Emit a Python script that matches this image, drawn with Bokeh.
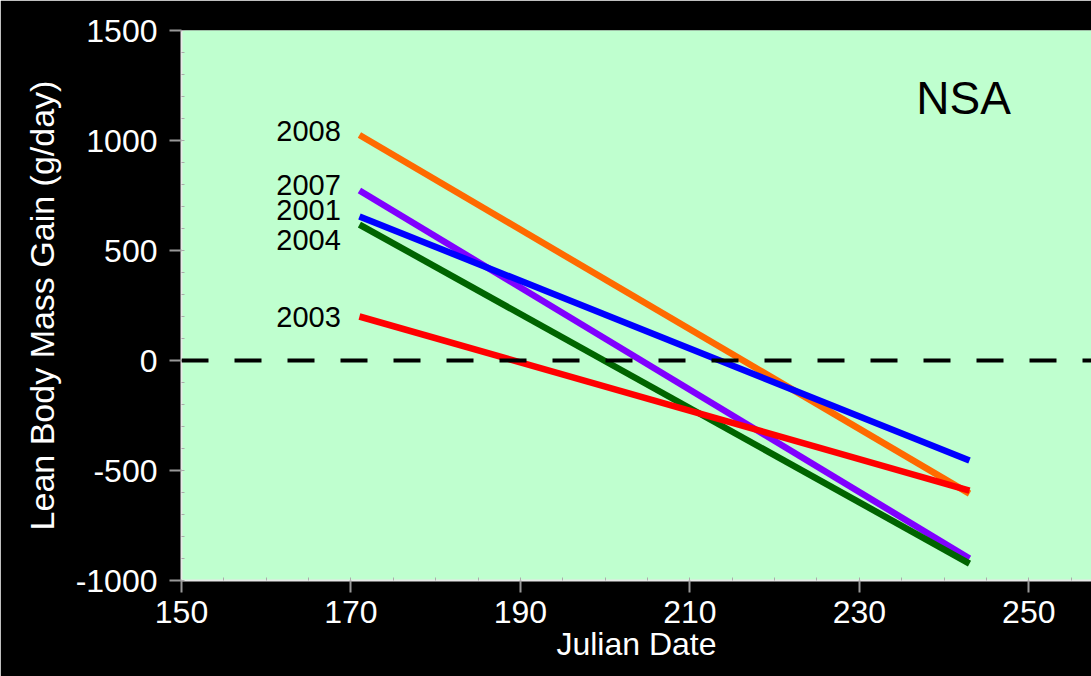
from bokeh.plotting import figure
from bokeh.models import Span, FixedTicker, Label
from bokeh.embed import file_html
from bokeh.resources import INLINE

# Fitted lean body mass gain lines (start and end of season)
years = ["2008", "2007", "2001", "2004", "2003"]
start_day = 171
end_day = 243
start_gain = [1025, 773, 655, 618, 200]
end_gain = [-605, -900, -455, -923, -591]
colors = ["#ff6a00", "#8000ff", "#0000ff", "#006400", "#ff0000"]
label_y = [1041, 800, 682, 550, 200]

x_ticks = [150, 170, 190, 210, 230, 250]
y_ticks = [-1000, -500, 0, 500, 1000, 1500]

FONT = "Liberation Sans"

p = figure(frame_width=910, frame_height=550, x_range=(150, 257.4), y_range=(-1000, 1500),
           output_backend="svg", toolbar_location=None,
           background_fill_color="#bfffcf", border_fill_color="black",
           min_border_left=181, min_border_right=0, min_border_top=30,
           min_border_bottom=96)
p.outline_line_color = None
p.grid.visible = False

for ax, ticks in ((p.xaxis[0], x_ticks), (p.yaxis[0], y_ticks)):
    ax.ticker = FixedTicker(ticks=ticks)
    ax.major_label_text_color = "white"
    ax.major_label_text_font = FONT
    ax.major_label_text_font_size = "32px"
    ax.axis_label_text_color = "white"
    ax.axis_label_text_font = FONT
    ax.axis_label_text_font_style = "normal"
    ax.axis_line_color = "#e8e8e8"
    ax.axis_line_width = 2
    ax.major_tick_line_color = "#999999"
    ax.major_tick_line_width = 2
    ax.major_tick_out = 12
    ax.major_tick_in = 0
    ax.minor_tick_line_color = "#aaaaaa"
    ax.minor_tick_in = 3
    ax.minor_tick_out = 0
    ax.major_label_overrides = {t: str(t) for t in ticks}

p.xaxis[0].ticker.minor_ticks = list(range(150, 260, 5))
p.yaxis[0].ticker.minor_ticks = list(range(-1000, 1501, 100))
p.xaxis.axis_label = "Julian Date"
p.yaxis.axis_label = "Lean Body Mass Gain (g/day)"
p.xaxis.axis_label_text_font_size = "32px"
p.yaxis.axis_label_text_font_size = "34px"
p.xaxis.major_label_standoff = 8
p.xaxis.axis_label_standoff = 0
p.yaxis.major_label_standoff = 12
p.yaxis.axis_label_standoff = 12

p.add_layout(Span(location=0, dimension="width", line_color="black",
                  line_width=4, line_dash="27 26"))

for yr, s, e, c, ly in zip(years, start_gain, end_gain, colors, label_y):
    p.line([start_day, end_day], [s, e], line_color=c, line_width=6.5)
    p.add_layout(Label(x=168.8, y=ly, text=yr, text_align="right",
                       text_baseline="middle", text_font=FONT,
                       text_font_size="29px", text_color="black"))

p.add_layout(Label(x=242.3, y=1195, text="NSA", text_align="center",
                   text_baseline="middle", text_font=FONT,
                   text_font_size="46px", text_color="black"))

open("out.html", "w").write(file_html(p, INLINE))
